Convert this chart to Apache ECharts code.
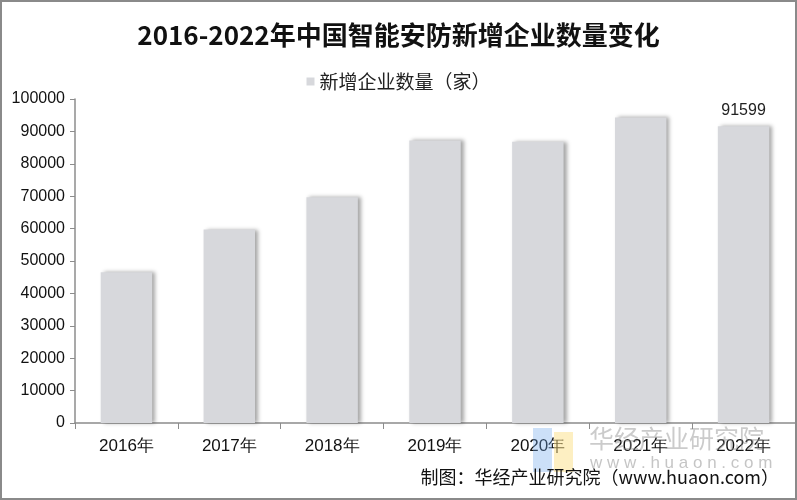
<!DOCTYPE html>
<html><head><meta charset="utf-8">
<script src="https://cdn.jsdelivr.net/npm/echarts@6/dist/echarts.min.js"></script>
<style>html,body{margin:0;padding:0;background:#fff}#c{width:797px;height:500px;box-sizing:border-box;border:2px solid #8a8a8a}</style>
</head><body><div id="c"></div>
<script>
const categories = ['2016年','2017年','2018年','2019年','2020年','2021年','2022年'];
const values = [46500, 59700, 69700, 87200, 86800, 94300, 91599];
const yTicks = [0,10000,20000,30000,40000,50000,60000,70000,80000,90000,100000];
const seriesName = '新增企业数量（家）';

const chart = echarts.init(document.getElementById('c'));
chart.setOption({
  backgroundColor:'#fff',
  animation:false,
  title:{text:'2016-2022年中国智能安防新增企业数量变化',left:'center',top:15,
    textStyle:{fontFamily:'Noto Sans CJK SC',fontWeight:'bold',fontSize:26,color:'#111'}},
  legend:{data:[seriesName],top:65,left:'center',itemWidth:8,itemHeight:8,icon:'rect',
    textStyle:{fontFamily:'Noto Sans CJK SC',fontSize:19,color:'#222'}},
  grid:{left:73,right:0,top:97,bottom:75},
  xAxis:{type:'category',data:categories,
    axisLine:{lineStyle:{color:'#8c8c8c',width:1.5}},
    axisTick:{show:true,length:6,lineStyle:{color:'#8c8c8c'}},
    axisLabel:{fontFamily:'Liberation Sans Narrow, Liberation Sans',fontSize:17,color:'#111',margin:15}},
  yAxis:{type:'value',min:0,max:100000,interval:10000,
    axisLine:{show:true,lineStyle:{color:'#8c8c8c',width:1.5}},
    axisTick:{show:true,length:5,lineStyle:{color:'#8c8c8c'}},
    splitLine:{show:false},
    axisLabel:{fontFamily:'Liberation Sans',fontSize:16,color:'#111',margin:10,
      formatter:v=>yTicks.includes(v)?String(v):''}},
  series:[{name:seriesName,type:'bar',data:values.map((v,i)=>i===values.length-1?{value:v,label:{show:true}}:v),
    barWidth:'50%',
    itemStyle:{color:'#d7d8dc',shadowColor:'rgba(0,0,0,0.35)',shadowBlur:4,shadowOffsetX:3,shadowOffsetY:0},
    label:{show:false,position:'top',fontFamily:'Liberation Sans',fontSize:16,color:'#222',distance:8}}],
  graphic:[
    {type:'rect',shape:{x:531,y:426,width:19,height:44},style:{fill:'rgba(110,165,235,0.35)'},z:10},
    {type:'rect',shape:{x:552,y:430,width:19,height:40},style:{fill:'rgba(250,220,120,0.45)'},z:10},
    {type:'text',left:587,top:424,style:{text:'华经产业研究院',fontFamily:'Noto Sans CJK SC',fontSize:25,fill:'rgba(140,140,140,0.45)'},z:10},
    {type:'text',left:588,top:453,style:{text:'w w w . h u a o n . c o m',fontFamily:'Liberation Sans',fontSize:17,fill:'rgba(140,140,140,0.5)'},z:10},
    {type:'text',right:16,top:466,style:{text:'制图：华经产业研究院（www.huaon.com）',fontFamily:'Noto Sans CJK SC',fontSize:18,fill:'#111'},z:11}
  ]
});
</script></body></html>
